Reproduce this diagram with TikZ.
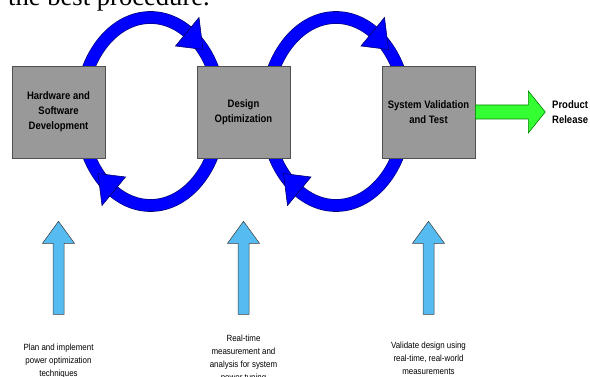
\documentclass[tikz,border=0pt]{standalone}
\usepackage{fontspec}
\setmainfont{Liberation Sans}
\newfontfamily\headserif{Liberation Serif}
\newfontfamily\narrowsans[FakeStretch=0.88]{Liberation Sans}
\usepackage{tikz}
\definecolor{boxgray}{RGB}{153,153,153}
\definecolor{boxline}{RGB}{80,80,80}
\definecolor{loopblue}{RGB}{0,0,255}
\definecolor{loopline}{RGB}{0,0,110}
\definecolor{relgreen}{RGB}{51,255,51}
\definecolor{relline}{RGB}{0,130,0}
\definecolor{upblue}{RGB}{85,187,240}
\definecolor{upline}{RGB}{60,60,60}

\begin{document}
\begin{tikzpicture}[x=1pt,y=1pt,
  stage/.style={shape=rectangle,draw=boxline,fill=boxgray,line width=0.6pt,minimum width=93pt,minimum height=92pt,inner sep=0pt,align=center,font=\narrowsans\fontsize{10.8}{15}\selectfont\bfseries},
  loop/.style={draw=loopline,line width=0.6pt,double=loopblue,double distance=11.5pt},
  loophead/.style={draw=loopline,line width=0.6pt,fill=loopblue,line join=miter},
  release/.style={draw=relline,line width=0.6pt,fill=relgreen},
  input/.style={draw=upline,line width=0.5pt,fill=upblue},
  note/.style={align=center,anchor=north,inner sep=0pt,font=\narrowsans\fontsize{9}{13}\selectfont}]
\def\la{70};
\def\lb{94};

\useasboundingbox (0,0) rectangle (590,377);
\clip (0,0) rectangle (590,377);

\node[anchor=base west,inner sep=0pt,font=\headserif\fontsize{26.6}{30}\selectfont] (caption) at (8,371.5) {the best procedure.};

% loops between the stages
\coordinate (L1) at (150.5,265.5);
\coordinate (L2) at (336,265.5);
\draw[loop] (L1) ellipse [x radius=\la pt, y radius=\lb pt];
\draw[loop] (L2) ellipse [x radius=\la pt, y radius=\lb pt];
\foreach \c in {L1,L2}{
  \foreach \r in {0,180}{
    \begin{scope}[shift={(\c)},rotate=\r]
      \draw[loophead] (48.5,94.0) -- (52.5,62.0) -- (25.0,65.5) -- cycle;
    \end{scope}
  }
}

\node[stage] (hw) at (58.5,265) {Hardware and\\Software\\Development};
\node[stage] (opt) at (243.5,265) {Design\\Optimization};
\node[stage] (val) at (428.5,265) {System Validation\\and Test};

\draw[release] ([yshift=7pt]val.east) -- ++(53,0) -- ++(0,14) -- ++(17,-21) -- ++(-17,-21) -- ++(0,14) -- ++(-53,0) -- cycle;
\node[anchor=west,inner sep=0pt,align=left,font=\narrowsans\fontsize{10.8}{15}\selectfont\bfseries] (prod) at (552,265) {Product\\Release};

% inputs from below
\foreach \b in {hw,opt,val}{
  \draw[input] ([yshift=-63pt]\b.south) -- ++(16,-22) -- ++(-10.5,0) -- ++(0,-71) -- ++(-11,0) -- ++(0,71) -- ++(-10.5,0) -- cycle;
}

\node[note] (n1) at (58.5,33.5) {Plan and implement\\power optimization\\techniques};
\node[note] (n2) at (243.5,42.5) {Real-time\\measurement and\\analysis for system\\power tuning};
\node[note] (n3) at (428.5,35.5) {Validate design using\\real-time, real-world\\measurements};
\end{tikzpicture}
\end{document}
